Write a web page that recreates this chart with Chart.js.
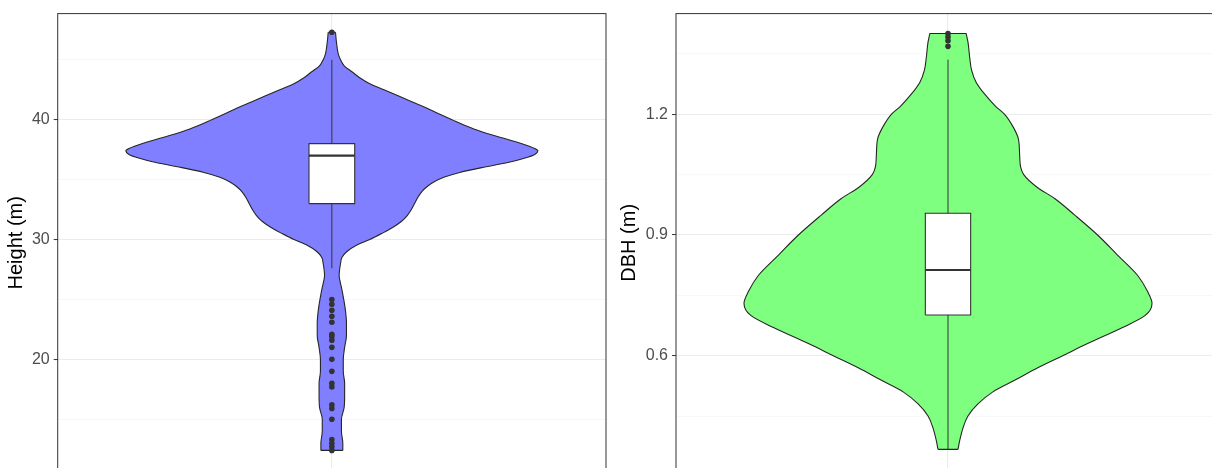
<!DOCTYPE html>
<html>
<head>
<meta charset="utf-8">
<script src="https://cdn.jsdelivr.net/npm/chart.js@4.4.0/dist/chart.umd.min.js"></script>
<style>
  html, body { margin: 0; padding: 0; background: #fff; overflow: hidden; width: 1212px; height: 468px; }
  .panel { position: absolute; top: 0; }
</style>
</head>
<body>
<div class="panel" style="left:0"><canvas id="heightChart" width="620" height="500"></canvas></div>
<div class="panel" style="left:610px"><canvas id="dbhChart" width="620" height="500"></canvas></div>
<script>
// Height (m): violin outline (level, half width in x units, max 0.45)
const heightLevels = [12.4, 13, 14, 15, 16, 17, 18, 19, 20, 21, 22, 23, 24, 25, 26, 26.5, 27, 28, 28.5, 29, 29.5, 30, 30.5, 31, 31.5, 32, 32.5, 33, 33.5, 34, 34.4, 34.8, 35.2, 35.6, 36, 36.4, 36.8, 37.1, 37.4, 37.6, 38, 38.5, 39, 39.5, 40, 40.5, 41, 41.5, 42, 42.5, 43, 43.5, 44, 44.5, 45, 45.5, 46.5, 47.3];
const heightWidths = [0.024, 0.024, 0.021, 0.021, 0.027, 0.028, 0.028, 0.025, 0.025, 0.028, 0.032, 0.032, 0.030, 0.026, 0.021, 0.018, 0.016, 0.019, 0.022, 0.033, 0.053, 0.083, 0.109, 0.133, 0.152, 0.165, 0.174, 0.181, 0.188, 0.197, 0.208, 0.223, 0.245, 0.280, 0.328, 0.383, 0.423, 0.444, 0.451, 0.444, 0.416, 0.372, 0.328, 0.293, 0.263, 0.234, 0.206, 0.175, 0.145, 0.114, 0.083, 0.061, 0.044, 0.027, 0.019, 0.014, 0.010, 0.008];
// lower whisker, Q1, median, Q3, upper whisker
const heightBox = [27.6, 33.0, 37.0, 38.0, 45.0];
const heightOutliers = [47.3, 25.0, 24.6, 24.1, 23.6, 23.1, 22.1, 21.9, 21.6, 21.0, 20.0, 19.0, 18.0, 17.7, 16.2, 15.9, 15.0, 13.3, 13.0, 12.7, 12.4];
const heightTicks = [20, 30, 40];

// DBH (m)
const dbhLevels = [0.367, 0.39, 0.42, 0.45, 0.48, 0.51, 0.54, 0.57, 0.60, 0.63, 0.67, 0.70, 0.73, 0.76, 0.80, 0.85, 0.90, 0.95, 0.99, 1.02, 1.05, 1.07, 1.10, 1.14, 1.17, 1.20, 1.22, 1.25, 1.28, 1.31, 1.34, 1.38, 1.401];
const dbhWidths = [0.022, 0.026, 0.033, 0.044, 0.066, 0.099, 0.149, 0.198, 0.253, 0.308, 0.385, 0.435, 0.450, 0.440, 0.418, 0.374, 0.330, 0.279, 0.236, 0.195, 0.167, 0.160, 0.158, 0.155, 0.143, 0.125, 0.105, 0.081, 0.062, 0.052, 0.048, 0.044, 0.040];
const dbhBox = [0.367, 0.701, 0.813, 0.954, 1.336];
const dbhOutliers = [1.401, 1.392, 1.383, 1.369];
const dbhTicks = [0.6, 0.9, 1.2];

const panelBorder = {
  id: "panelBorder",
  afterDatasetsDraw(chart) {
    const { ctx, chartArea: a } = chart;
    ctx.save();
    ctx.strokeStyle = "#333333";
    ctx.lineWidth = 1;
    ctx.strokeRect(a.left, a.top, a.right - a.left, a.bottom - a.top);
    ctx.restore();
  }
};

function violinChart(id, levels, widths, box, outliers, ticks, cfg) {
  const right = levels.map((v, i) => ({ x: 1 + widths[i], y: v }));
  const left = levels.map((v, i) => ({ x: 1 - widths[i], y: v }));
  const n = levels.length - 1;
  const bw = 0.05;
  const edge = "#262626";
  const isMajor = v => ticks.some(t => Math.abs(t - v) < 1e-6);

  new Chart(document.getElementById(id), {
    type: "line",
    data: {
      datasets: [
        { data: right, borderColor: edge, borderWidth: 1.1, pointRadius: 0, cubicInterpolationMode: "monotone", fill: false, order: 9 },
        { data: left, borderColor: edge, borderWidth: 1.1, pointRadius: 0, cubicInterpolationMode: "monotone", fill: "-1", backgroundColor: cfg.fill, order: 10 },
        { data: [{ x: 1 - widths[0], y: levels[0] }, { x: 1 + widths[0], y: levels[0] }], borderColor: edge, borderWidth: 1.1, pointRadius: 0, order: 9 },
        { data: [{ x: 1 - widths[n], y: levels[n] }, { x: 1 + widths[n], y: levels[n] }], borderColor: edge, borderWidth: 1.1, pointRadius: 0, order: 9 },
        // whisker
        { data: [{ x: 1, y: box[0] }, { x: 1, y: box[4] }], borderColor: "#333333", borderWidth: 1, pointRadius: 0, order: 7 },
        // box fill
        { data: [{ x: 1 - bw, y: box[1] }, { x: 1 - bw, y: box[3] }], borderWidth: 0, pointRadius: 0, order: 6 },
        { data: [{ x: 1 + bw, y: box[1] }, { x: 1 + bw, y: box[3] }], borderWidth: 0, pointRadius: 0, fill: "-1", backgroundColor: "#ffffff", order: 5 },
        // box outline
        { data: [{ x: 1 - bw, y: box[1] }, { x: 1 + bw, y: box[1] }, { x: 1 + bw, y: box[3] }, { x: 1 - bw, y: box[3] }, { x: 1 - bw, y: box[1] }], borderColor: "#333333", borderWidth: 1.1, pointRadius: 0, order: 4 },
        // median
        { data: [{ x: 1 - bw, y: box[2] }, { x: 1 + bw, y: box[2] }], borderColor: "#333333", borderWidth: 2.2, pointRadius: 0, order: 3 },
        // outliers
        { data: outliers.map(v => ({ x: 1, y: v })), showLine: false, pointRadius: 2.8, pointBackgroundColor: "#333333", pointBorderWidth: 0, order: 1 }
      ]
    },
    options: {
      responsive: false,
      animation: false,
      indexAxis: "y",
      layout: { padding: { left: cfg.padLeft, right: cfg.padRight, top: 11, bottom: 28 } },
      plugins: { legend: { display: false }, tooltip: { enabled: false } },
      scales: {
        x: {
          type: "linear", min: 0.4, max: 1.6,
          afterFit: s => { s.height = 0; },
          ticks: { display: false, stepSize: 0.6 },
          border: { display: false },
          grid: { drawTicks: false, color: c => Math.abs(c.tick.value - 1) < 1e-6 ? "#ebebeb" : "rgba(0,0,0,0)", lineWidth: 1.1 }
        },
        y: {
          type: "linear", min: cfg.min, max: cfg.max,
          afterFit: s => { s.width = cfg.axisWidth; },
          ticks: {
            stepSize: cfg.step, includeBounds: false, padding: 4,
            color: "#4d4d4d", font: { family: "Liberation Sans", size: 16 },
            callback: v => isMajor(v) ? cfg.fmt(v) : ""
          },
          border: { display: false },
          grid: {
            tickLength: 4,
            color: c => isMajor(c.tick.value) ? "#ebebeb" : "#f3f3f3",
            lineWidth: c => isMajor(c.tick.value) ? 1.1 : 0.6,
            tickColor: c => isMajor(c.tick.value) ? "#333333" : "rgba(0,0,0,0)",
            tickWidth: 1
          },
          title: {
            display: true, text: cfg.title, color: "#000000", padding: 0,
            font: { family: "Liberation Sans", size: 20, lineHeight: 1.2 }
          }
        }
      }
    },
    plugins: [panelBorder]
  });
}

violinChart("heightChart", heightLevels, heightWidths, heightBox, heightOutliers, heightTicks, {
  fill: "#7f7fff", title: "Height (m)", min: 10.598, max: 48.855, step: 5,
  padLeft: 4, padRight: 14, axisWidth: 53.7, fmt: v => String(Math.round(v))
});

violinChart("dbhChart", dbhLevels, dbhWidths, dbhBox, dbhOutliers, dbhTicks, {
  fill: "#7fff7f", title: "DBH (m)", min: 0.3108, max: 1.4504, step: 0.15,
  padLeft: 7, padRight: 10, axisWidth: 59, fmt: v => v.toFixed(1)
});
</script>
</body>
</html>
